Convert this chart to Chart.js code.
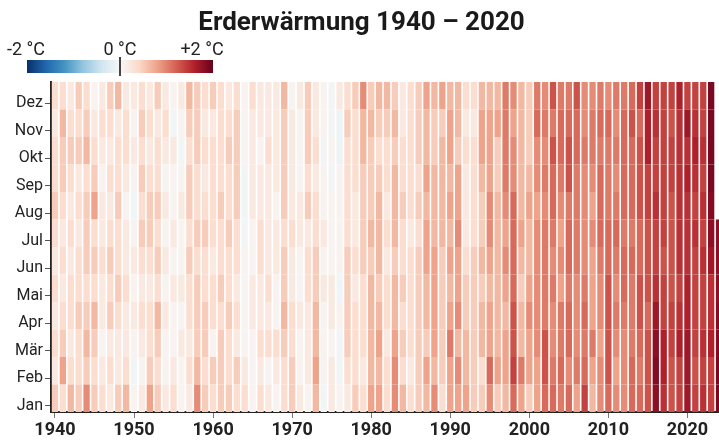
<!DOCTYPE html>
<html lang="de">
<head>
<meta charset="utf-8">
<title>Erderwärmung 1940 – 2020</title>
<script src="https://cdn.jsdelivr.net/npm/chart.js@4"></script>
<style>
  html, body { margin: 0; padding: 0; background: #fff; overflow: hidden; }
  #wrap { position: relative; width: 728px; height: 441px; }
</style>
</head>
<body>
<div id="wrap"><canvas id="grafico"></canvas></div>
<script>
// Monate (y) und Jahre (x)
const monate = ['Jan', 'Feb', 'Mär', 'Apr', 'Mai', 'Jun', 'Jul', 'Aug', 'Sep', 'Okt', 'Nov', 'Dez'];
const ersteJahr = 1940;
const letzteJahr = 2024;
const jahre = [];
for (let j = ersteJahr; j <= letzteJahr; j++) jahre.push(j);

// Temperaturabweichung in °C, pro Jahr 12 Monatswerte (Jan..Dez), aus dem Bild geschätzt
const anomalien1940er = [
  [0.5, 0.2, 0.35, 0.2, 0.35, 0.2, 0.35, 0.5, 0.35, 0.35, 0.2, 0.35],
  [0.35, 0.8, 0.5, 0.35, 0.2, 0.35, 0.2, 0.35, 0.5, 0.5, 0.65, 0.35],
  [0.65, 0.35, 0.2, 0.35, 0.35, 0.2, 0.35, 0.2, 0.35, 0.5, 0.35, 0.2],
  [0.5, 0.35, 0.35, 0.5, 0.35, 0.35, 0.2, 0.35, 0.2, 0.5, 0.35, 0.5],
  [0.95, 0.5, 0.65, 0.5, 0.35, 0.5, 0.5, 0.5, 0.35, 0.65, 0.5, 0.35],
  [0.5, 0.35, 0.5, 0.65, 0.35, 0.5, 0.35, 0.8, 0.5, 0.35, 0.2, 0.05],
  [0.35, 0.2, 0.05, 0.2, 0.2, 0.35, 0.2, 0.2, 0.05, 0.2, 0.35, 0.2],
  [0.2, 0.35, 0.2, 0.5, 0.35, 0.5, 0.35, 0.2, 0.35, 0.2, 0.35, 0.5],
  [0.5, 0.2, 0.2, 0.35, 0.5, 0.35, 0.35, 0.5, 0.35, 0.35, 0.2, 0.65],
  [0.65, 0.35, 0.2, 0.2, 0.35, 0.2, 0.2, 0.05, 0.2, 0.35, 0.35, 0.2]
];
const anomalien1950er = [
  [0.05, -0.05, 0.05, 0.2, 0.05, 0.2, 0.05, -0.05, 0.05, 0.2, 0.05, 0.2],
  [0.2, 0.05, 0.2, 0.35, 0.2, 0.35, 0.5, 0.35, 0.5, 0.35, 0.5, 0.35],
  [0.8, 0.5, 0.35, 0.35, 0.2, 0.35, 0.5, 0.5, 0.35, 0.2, 0.35, 0.2],
  [0.5, 0.35, 0.5, 0.65, 0.35, 0.5, 0.35, 0.5, 0.35, 0.35, 0.2, 0.5],
  [0.2, 0.05, 0.05, 0.2, 0.05, 0.2, 0.05, 0.2, 0.05, 0.2, 0.35, 0.2],
  [0.35, 0.2, 0.05, 0.05, 0.2, 0.05, 0.2, 0.05, 0.05, 0.2, -0.05, 0.05],
  [0.05, 0.05, 0.2, 0.05, 0.2, 0.05, 0.05, 0.2, 0.05, -0.05, 0.05, 0.2],
  [0.2, 0.35, 0.2, 0.35, 0.35, 0.5, 0.35, 0.5, 0.5, 0.35, 0.5, 0.65],
  [0.95, 0.65, 0.5, 0.5, 0.5, 0.35, 0.5, 0.35, 0.35, 0.5, 0.5, 0.5],
  [0.5, 0.35, 0.5, 0.5, 0.35, 0.35, 0.5, 0.35, 0.2, 0.35, 0.2, 0.35]
];
const anomalien1960er = [
  [0.35, 0.5, 0.05, 0.35, 0.35, 0.2, 0.35, 0.35, 0.35, 0.35, 0.2, 0.5],
  [0.5, 0.5, 0.5, 0.35, 0.5, 0.35, 0.35, 0.5, 0.35, 0.35, 0.35, 0.35],
  [0.5, 0.35, 0.35, 0.5, 0.35, 0.35, 0.5, 0.35, 0.35, 0.5, 0.35, 0.2],
  [0.35, 0.5, 0.2, 0.35, 0.2, 0.35, 0.35, 0.5, 0.5, 0.5, 0.5, 0.35],
  [0.35, 0.2, 0.05, 0.05, 0.05, 0.05, -0.05, -0.05, -0.05, 0.05, 0.05, 0.05],
  [0.05, 0.05, 0.05, 0.2, 0.2, 0.05, 0.05, 0.2, 0.2, 0.2, 0.2, 0.35],
  [0.35, 0.2, 0.35, 0.2, 0.2, 0.35, 0.35, 0.2, 0.2, 0.05, 0.2, 0.2],
  [0.2, 0.05, 0.35, 0.2, 0.35, 0.2, 0.2, 0.2, 0.2, 0.35, 0.2, 0.2],
  [0.05, 0.2, 0.35, 0.05, 0.05, 0.2, 0.2, 0.05, 0.2, 0.2, 0.2, 0.2],
  [0.35, 0.35, 0.5, 0.65, 0.5, 0.5, 0.35, 0.5, 0.5, 0.5, 0.5, 0.65]
];
const anomalien1970er = [
  [0.5, 0.5, 0.35, 0.35, 0.2, 0.2, 0.35, 0.2, 0.2, 0.2, 0.2, 0.05],
  [0.2, 0.05, 0.05, 0.2, 0.05, 0.05, 0.2, 0.2, 0.05, 0.05, 0.05, 0.2],
  [0.05, 0.2, 0.2, 0.2, 0.35, 0.35, 0.2, 0.5, 0.35, 0.5, 0.5, 0.5],
  [0.65, 0.8, 0.65, 0.65, 0.5, 0.5, 0.35, 0.35, 0.2, 0.35, 0.2, 0.2],
  [-0.05, 0.05, 0.05, 0.05, 0.2, 0.05, 0.2, 0.05, 0.05, -0.05, 0.05, 0.05],
  [0.2, 0.2, 0.05, 0.2, 0.2, 0.05, 0.05, 0.05, -0.05, 0.05, -0.05, -0.05],
  [0.05, -0.05, -0.05, 0.05, -0.05, 0.05, 0.05, 0.05, 0.05, -0.1, -0.1, 0.2],
  [0.2, 0.35, 0.5, 0.5, 0.5, 0.5, 0.35, 0.35, 0.35, 0.35, 0.5, 0.35],
  [0.5, 0.35, 0.35, 0.35, 0.2, 0.35, 0.2, 0.2, 0.35, 0.35, 0.35, 0.5],
  [0.35, 0.2, 0.35, 0.35, 0.35, 0.5, 0.5, 0.5, 0.5, 0.65, 0.65, 0.95]
];
const anomalien1980er = [
  [0.8, 0.65, 0.65, 0.65, 0.65, 0.5, 0.65, 0.5, 0.5, 0.5, 0.65, 0.5],
  [0.8, 0.65, 0.8, 0.65, 0.5, 0.65, 0.65, 0.65, 0.5, 0.35, 0.5, 0.65],
  [0.35, 0.35, 0.2, 0.35, 0.35, 0.2, 0.35, 0.2, 0.35, 0.35, 0.5, 0.65],
  [0.95, 0.95, 0.8, 0.65, 0.65, 0.5, 0.65, 0.65, 0.65, 0.5, 0.65, 0.5],
  [0.65, 0.35, 0.5, 0.35, 0.5, 0.35, 0.35, 0.5, 0.35, 0.35, 0.2, 0.2],
  [0.35, 0.2, 0.35, 0.35, 0.35, 0.35, 0.2, 0.35, 0.35, 0.35, 0.35, 0.35],
  [0.5, 0.5, 0.5, 0.5, 0.5, 0.5, 0.35, 0.5, 0.35, 0.5, 0.5, 0.5],
  [0.65, 0.8, 0.5, 0.65, 0.65, 0.8, 0.8, 0.65, 0.8, 0.65, 0.65, 0.8],
  [0.95, 0.65, 0.8, 0.8, 0.8, 0.8, 0.65, 0.65, 0.65, 0.5, 0.5, 0.65],
  [0.35, 0.5, 0.5, 0.5, 0.5, 0.5, 0.65, 0.65, 0.65, 0.65, 0.5, 0.8]
];
const anomalien1990er = [
  [0.8, 0.8, 1.05, 0.8, 0.65, 0.8, 0.65, 0.8, 0.65, 0.8, 0.8, 0.65],
  [0.8, 0.95, 0.65, 0.95, 0.8, 0.8, 0.95, 0.8, 0.8, 0.5, 0.65, 0.65],
  [0.8, 0.65, 0.65, 0.5, 0.5, 0.35, 0.2, 0.2, 0.2, 0.35, 0.2, 0.35],
  [0.5, 0.5, 0.5, 0.5, 0.5, 0.5, 0.35, 0.35, 0.35, 0.35, 0.2, 0.35],
  [0.5, 0.35, 0.65, 0.65, 0.5, 0.65, 0.5, 0.5, 0.65, 0.8, 0.8, 0.65],
  [0.95, 1.15, 0.8, 0.8, 0.65, 0.8, 0.95, 0.95, 0.8, 0.8, 0.8, 0.65],
  [0.5, 0.8, 0.65, 0.65, 0.65, 0.65, 0.65, 0.65, 0.5, 0.5, 0.8, 0.65],
  [0.65, 0.8, 0.8, 0.65, 0.8, 0.95, 0.8, 0.95, 1.05, 1.05, 1.05, 1.05],
  [1.15, 1.4, 1.3, 1.3, 1.15, 1.15, 1.15, 1.15, 0.95, 0.95, 0.8, 0.95],
  [0.8, 1.05, 0.65, 0.65, 0.5, 0.65, 0.8, 0.65, 0.65, 0.65, 0.65, 0.65]
];
const anomalien2000er = [
  [0.5, 0.8, 0.8, 0.95, 0.8, 0.65, 0.65, 0.8, 0.65, 0.5, 0.5, 0.5],
  [0.8, 0.8, 0.95, 0.95, 0.95, 0.95, 0.95, 0.8, 0.95, 0.95, 1.15, 1.05],
  [1.15, 1.3, 1.3, 1.05, 1.05, 1.05, 1.05, 0.95, 1.05, 0.95, 1.05, 0.95],
  [1.15, 1.05, 0.95, 0.95, 1.05, 0.95, 1.05, 1.15, 1.15, 1.3, 1.05, 1.3],
  [1.05, 1.15, 1.05, 1.05, 0.8, 0.95, 0.8, 0.95, 1.05, 1.15, 1.15, 1.05],
  [1.15, 0.95, 1.15, 1.15, 1.05, 1.15, 1.15, 1.05, 1.3, 1.3, 1.15, 1.05],
  [0.8, 1.05, 0.95, 0.95, 0.95, 1.05, 1.05, 1.05, 1.05, 1.15, 1.15, 1.3],
  [1.4, 1.15, 1.05, 1.15, 1.05, 0.95, 0.95, 0.95, 0.95, 1.05, 0.95, 0.95],
  [0.65, 0.8, 1.05, 0.8, 0.8, 0.8, 0.95, 0.8, 0.95, 1.05, 1.05, 0.95],
  [0.95, 0.95, 0.8, 0.95, 0.95, 1.05, 1.15, 1.15, 1.15, 1.05, 1.15, 1.05]
];
const anomalien2010er = [
  [1.15, 1.3, 1.3, 1.3, 1.3, 1.15, 1.15, 1.05, 1.05, 1.05, 1.15, 0.95],
  [0.95, 0.8, 0.95, 1.05, 0.95, 1.05, 1.15, 1.05, 0.95, 1.05, 0.95, 1.05],
  [0.95, 0.95, 0.95, 1.05, 1.15, 1.15, 1.05, 1.15, 1.15, 1.15, 1.15, 1.05],
  [1.15, 1.15, 1.05, 1.05, 1.05, 1.15, 1.05, 1.15, 1.15, 1.15, 1.3, 1.15],
  [1.15, 1.05, 1.15, 1.3, 1.3, 1.15, 1.15, 1.3, 1.3, 1.3, 1.15, 1.4],
  [1.3, 1.3, 1.3, 1.15, 1.3, 1.3, 1.3, 1.4, 1.4, 1.6, 1.6, 1.7],
  [1.8, 1.85, 1.8, 1.7, 1.5, 1.4, 1.4, 1.5, 1.4, 1.4, 1.5, 1.4],
  [1.5, 1.6, 1.6, 1.4, 1.4, 1.3, 1.4, 1.4, 1.4, 1.4, 1.4, 1.4],
  [1.3, 1.3, 1.4, 1.4, 1.3, 1.3, 1.3, 1.3, 1.4, 1.4, 1.3, 1.4],
  [1.4, 1.4, 1.6, 1.5, 1.4, 1.5, 1.5, 1.5, 1.5, 1.5, 1.5, 1.6]
];
const anomalien2020er = [
  [1.7, 1.7, 1.7, 1.6, 1.6, 1.5, 1.5, 1.5, 1.6, 1.5, 1.7, 1.4],
  [1.4, 1.3, 1.4, 1.4, 1.4, 1.4, 1.5, 1.4, 1.5, 1.6, 1.5, 1.4],
  [1.5, 1.4, 1.5, 1.4, 1.4, 1.5, 1.4, 1.5, 1.4, 1.5, 1.4, 1.4],
  [1.4, 1.4, 1.6, 1.5, 1.5, 1.7, 1.8, 1.85, 1.9, 1.9, 1.9, 1.9],
  [1.9, 1.9, 1.85, 1.85, 1.8, 1.8, 1.8]
];

const anomalien = [].concat(anomalien1940er, anomalien1950er, anomalien1960er,
  anomalien1970er, anomalien1980er, anomalien1990er, anomalien2000er,
  anomalien2010er, anomalien2020er);

// Farbskala (-2 °C .. +2 °C), blau - weiß - rot
const farbStufen = [
  [-2.0, [8, 48, 107]], [-1.6, [33, 102, 172]], [-1.2, [67, 147, 195]],
  [-0.8, [146, 197, 222]], [-0.4, [209, 229, 240]], [0.0, [247, 247, 247]],
  [0.4, [251, 218, 202]], [0.8, [238, 163, 138]], [1.2, [213, 98, 84]],
  [1.6, [176, 32, 42]], [2.0, [103, 0, 31]]
];

function farbe(wert) {
  const v = Math.max(-2, Math.min(2, wert));
  for (let i = 1; i < farbStufen.length; i++) {
    const [v1, c1] = farbStufen[i];
    const [v0, c0] = farbStufen[i - 1];
    if (v <= v1) {
      const t = (v - v0) / (v1 - v0);
      const c = c0.map((x, k) => Math.round(x + (c1[k] - x) * t));
      return 'rgb(' + c.join(',') + ')';
    }
  }
  return 'rgb(103,0,31)';
}

// Ein Datensatz pro Monat, jede Zelle als schwebender Balken [m, m+1]
const datensaetze = monate.map(function (monat, m) {
  return {
    label: monat,
    data: jahre.map((j, i) => anomalien[i][m] === undefined ? null : [m, m + 1]),
    backgroundColor: jahre.map((j, i) => anomalien[i][m] === undefined ? 'transparent' : farbe(anomalien[i][m])),
    borderWidth: 0,
    borderSkipped: false,
    grouped: false,
    barPercentage: 0.8,
    categoryPercentage: 1
  };
});

// Farblegende oben links
const farbLegende = {
  id: 'farbLegende',
  afterDraw(chart) {
    const ctx = chart.ctx;
    const x0 = 27, x1 = 213, y0 = 60, h = 13;
    const grad = ctx.createLinearGradient(x0, 0, x1, 0);
    farbStufen.forEach(([v, c]) => grad.addColorStop((v + 2) / 4, 'rgb(' + c.join(',') + ')'));
    ctx.save();
    ctx.fillStyle = grad;
    ctx.fillRect(x0, y0, x1 - x0, h);
    ctx.strokeStyle = '#444';
    ctx.lineWidth = 2;
    ctx.beginPath();
    ctx.moveTo(120, 57);
    ctx.lineTo(120, 76);
    ctx.stroke();
    ctx.fillStyle = '#222';
    ctx.font = '18px Roboto';
    ctx.textAlign = 'center';
    ctx.textBaseline = 'alphabetic';
    ctx.fillText('-2 °C', 26, 55);
    ctx.fillText('0 °C', 120, 55);
    ctx.fillText('+2 °C', 202, 55);
    ctx.restore();
  }
};

Chart.defaults.font.family = 'Roboto';
Chart.defaults.color = '#222';

document.addEventListener("DOMContentLoaded", function () {
  const grafico = document.getElementById("grafico");
  new Chart(grafico, {
    type: 'bar',
    data: {
      labels: jahre,
      datasets: datensaetze
    },
    plugins: [farbLegende],
    options: {
      responsive: true,
      maintainAspectRatio: false,
      animation: false,
      layout: { padding: { left: 0, right: 5, top: 0, bottom: 0 } },
      plugins: {
        legend: { display: false },
        tooltip: { enabled: false },
        title: {
          display: true,
          text: 'Erderwärmung 1940 – 2020',
          font: { size: 26, weight: 'bold' },
          color: '#1a1a1a',
          padding: { top: 8, bottom: 42.8 }
        }
      },
      scales: {
        x: {
          type: 'category',
          offset: true,
          z: 1,
          border: { display: true, color: '#222', width: 2 },
          grid: { offset: false, drawOnChartArea: false, drawTicks: true, tickLength: 6, color: '#777' },
          // nur Jahrzehnte beschriften
          afterBuildTicks: function (scale) {
            scale.ticks = scale.ticks.filter(t => jahre[t.value] % 10 === 0);
          },
          ticks: {
            autoSkip: false,
            maxRotation: 0,
            padding: 2,
            font: { size: 18, weight: 'bold' },
            color: '#222',
            callback: function (val) { return String(jahre[val]); }
          },
          afterFit: function (scale) { scale.height = 29; }
        },
        y: {
          type: 'linear',
          min: 0,
          max: 12,
          z: 1,
          border: { display: true, color: '#222', width: 2 },
          grid: { drawOnChartArea: false, drawTicks: true, tickLength: 6, color: '#555' },
          afterBuildTicks: function (scale) {
            scale.ticks = monate.map((m, i) => ({ value: i + 0.22 }));
          },
          ticks: {
            padding: 2,
            font: { size: 16 },
            color: '#222',
            callback: function (v) { return monate[Math.floor(v)]; }
          },
          afterFit: function (scale) { scale.width = 51; }
        }
      }
    }
  });
});
</script>
</body>
</html>
